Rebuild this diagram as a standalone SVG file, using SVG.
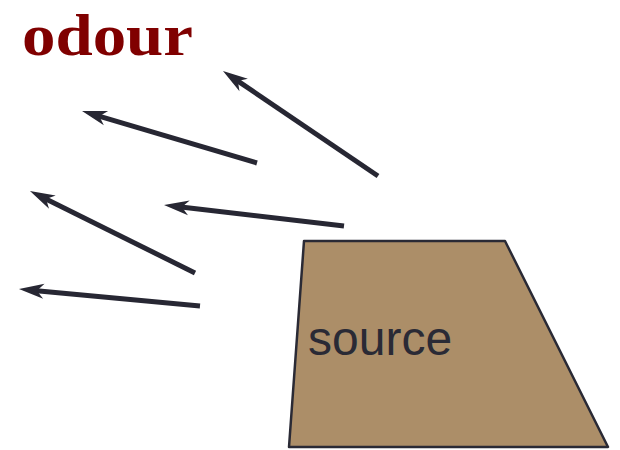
<svg xmlns="http://www.w3.org/2000/svg" width="620" height="450" viewBox="0 0 620 450">
<style>
.arrow{stroke:#272733;stroke-width:5;fill:none;marker-end:url(#head)}
.title{font-family:"Liberation Serif",serif;font-weight:bold;font-size:60px;fill:#800000}
.label{font-family:"Liberation Sans",Arial,sans-serif;font-size:48px;fill:#2a2a35}
</style>
<defs>
<marker id="head" markerUnits="userSpaceOnUse" viewBox="-12 -10 30 20" refX="0" refY="0" markerWidth="30" markerHeight="20" orient="auto">
<path d="M15,0 L-10,-7.5 L-3,0 L-10,7.5 Z" fill="#272733"/>
</marker>
</defs>
<rect width="620" height="450" fill="#ffffff"/>
<text class="title" x="22" y="55" textLength="171" lengthAdjust="spacingAndGlyphs">odour</text>
<g id="source">
<polygon points="304,241 505,241 608,447 289,447" fill="#ac8e68" stroke="#2a2a35" stroke-width="2.5" stroke-linejoin="round"/>
<text class="label" x="308" y="355">source</text>
</g>
<g id="connectors">
<line class="arrow" x1="378" y1="176" x2="235.4" y2="79.4"/>
<line class="arrow" x1="257" y1="163" x2="96.4" y2="115.3"/>
<line class="arrow" x1="344" y1="226" x2="178.9" y2="206.7"/>
<line class="arrow" x1="195" y1="273" x2="43.4" y2="197.7"/>
<line class="arrow" x1="200" y1="306" x2="33.9" y2="290.4"/>
</g>
</svg>
